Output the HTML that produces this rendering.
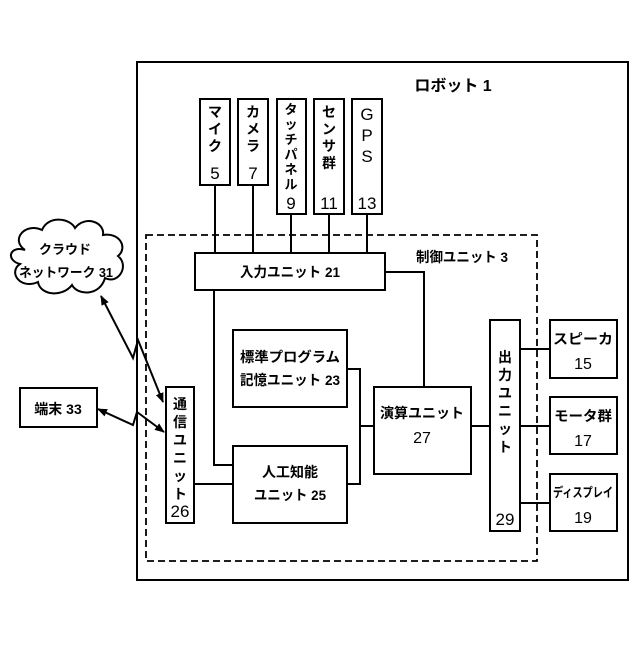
<!DOCTYPE html>
<html><head><meta charset="utf-8"><style>
html,body{margin:0;padding:0;background:#fff}
svg text{font-family:"Liberation Sans","Noto Sans CJK JP",sans-serif;fill:#000}
</style></head><body>
<svg width="640" height="640" viewBox="0 0 640 640" xmlns="http://www.w3.org/2000/svg">
<defs><marker id="ah" markerWidth="10" markerHeight="8" refX="9" refY="4" orient="auto-start-reverse" markerUnits="userSpaceOnUse"><path d="M0,0 L10,4 L0,8 z" fill="#000"/></marker></defs>
<g fill="none" stroke="#000" stroke-width="2">
<rect x="137" y="62" width="491" height="518"/>
<rect x="146" y="235" width="391" height="326" stroke-dasharray="7,4" stroke-width="1.8"/>
<rect x="200" y="99" width="30" height="86"/>
<rect x="238" y="99" width="30" height="86"/>
<rect x="277" y="99" width="29" height="115"/>
<rect x="314" y="99" width="30" height="115"/>
<rect x="352" y="99" width="30" height="115"/>
<path d="M215 185V253M253 185V253M291 214V253M329 214V253M367 214V253"/>
<rect x="195" y="253" width="190" height="37"/>
<path d="M385 272H424V387"/>
<path d="M214 290V465H233"/>
<rect x="233" y="330" width="114" height="77"/>
<rect x="233" y="446" width="114" height="77"/>
<path d="M347 369H360V484H347M360 426H374"/>
<rect x="374" y="387" width="97" height="87"/>
<path d="M471 426H490"/>
<rect x="490" y="320" width="30" height="211"/>
<path d="M520 349H550M520 426H550M520 503H550"/>
<rect x="550" y="320" width="67" height="58"/>
<rect x="550" y="397" width="67" height="57"/>
<rect x="550" y="474" width="67" height="57"/>
<rect x="166" y="387" width="28" height="136"/>
<path d="M194 484H233"/>
<rect x="20" y="388" width="77" height="39"/>
<path d="M25 250 C10 240 25 222 42 230 C48 215 70 218 75 228 C85 215 105 222 103 235 C120 232 128 248 118 256 C130 266 118 285 105 278 C100 296 78 296 72 285 C62 298 40 295 38 282 C20 290 8 272 20 264 C5 260 10 245 25 250 Z"/>
<path d="M101 296 L133 358 L138 340 L163 402" marker-start="url(#ah)" marker-end="url(#ah)"/>
<path d="M98 409 L133 425 L137 412 L164 432" marker-start="url(#ah)" marker-end="url(#ah)"/>
</g>
<g font-size="15" text-anchor="middle" font-weight="bold">
<text x="453" y="91" font-size="16">ロボット 1</text>
<text x="462" y="262" font-size="14" textLength="92" lengthAdjust="spacingAndGlyphs">制御ユニット 3</text>
<text x="290" y="277" font-size="14" textLength="100" lengthAdjust="spacingAndGlyphs">入力ユニット 21</text>
<text x="290" y="362" font-size="14" textLength="100" lengthAdjust="spacingAndGlyphs">標準プログラム</text>
<text x="290" y="385" font-size="14" textLength="100" lengthAdjust="spacingAndGlyphs">記憶ユニット 23</text>
<text x="290" y="477" font-size="14">人工知能</text>
<text x="290" y="500" font-size="14" textLength="72" lengthAdjust="spacingAndGlyphs">ユニット 25</text>
<text x="422" y="418" font-size="14" textLength="84" lengthAdjust="spacingAndGlyphs">演算ユニット</text>
<text x="422" y="443" font-size="16" font-weight="normal">27</text>
<text x="583" y="344" font-size="14" textLength="60" lengthAdjust="spacingAndGlyphs">スピーカ</text>
<text x="583" y="369" font-size="16" font-weight="normal">15</text>
<text x="583" y="421" font-size="14" textLength="58" lengthAdjust="spacingAndGlyphs">モータ群</text>
<text x="583" y="446" font-size="16" font-weight="normal">17</text>
<text x="583" y="497" font-size="13" textLength="60" lengthAdjust="spacingAndGlyphs">ディスプレイ</text>
<text x="583" y="523" font-size="16" font-weight="normal">19</text>
<text x="58" y="414" font-size="14">端末 33</text>
<text x="65" y="254" font-size="13">クラウド</text>
<text x="66" y="277" font-size="13" textLength="94" lengthAdjust="spacingAndGlyphs">ネットワーク 31</text>
<g font-size="14">
<text x="215" y="117">マ</text><text x="215" y="134">イ</text><text x="215" y="151">ク</text>
<text x="253" y="117">カ</text><text x="253" y="134">メ</text><text x="253" y="151">ラ</text>
<text x="291" y="114" font-size="13">タ</text><text x="291" y="129" font-size="13">ッ</text><text x="291" y="144" font-size="13">チ</text><text x="291" y="159" font-size="13">パ</text><text x="291" y="174" font-size="13">ネ</text><text x="291" y="189" font-size="13">ル</text>
<text x="329" y="117">セ</text><text x="329" y="134">ン</text><text x="329" y="151">サ</text><text x="329" y="168">群</text>
<text x="505" y="362">出</text><text x="505" y="380">力</text><text x="505" y="398">ユ</text><text x="505" y="416">ニ</text><text x="505" y="434">ッ</text><text x="505" y="452">ト</text>
<text x="180" y="409">通</text><text x="180" y="427">信</text><text x="180" y="445">ユ</text><text x="180" y="463">ニ</text><text x="180" y="481">ッ</text><text x="180" y="499">ト</text>
</g>
<g font-size="17" font-weight="normal">
<text x="367" y="120">G</text><text x="367" y="141">P</text><text x="367" y="162">S</text>
<text x="215" y="179">5</text><text x="253" y="179">7</text>
<text x="291" y="209">9</text><text x="329" y="209">11</text><text x="367" y="209">13</text>
<text x="505" y="525">29</text><text x="180" y="517">26</text>
</g>
</g>
</svg>
</body></html>
